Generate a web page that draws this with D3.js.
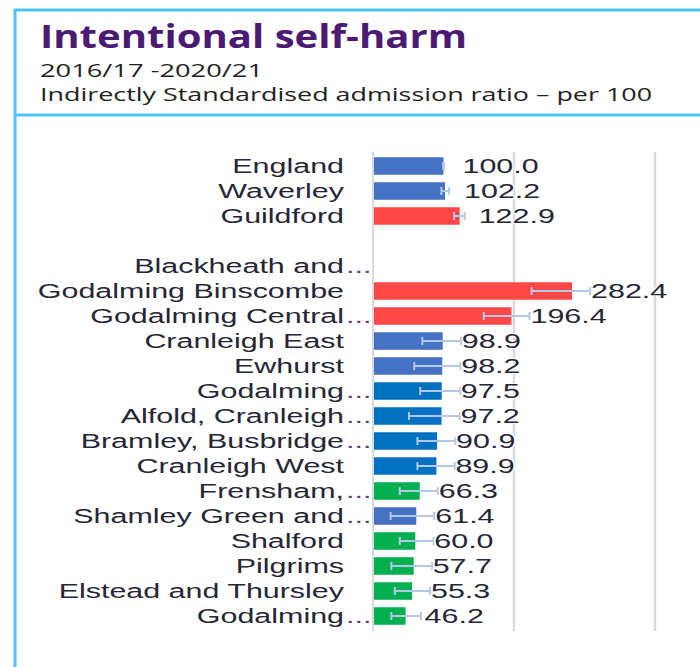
<!DOCTYPE html>
<html>
<head>
<meta charset="utf-8">
<script src="https://cdn.jsdelivr.net/npm/d3@7"></script>
<style>
    body {
        margin: 0;
        background: white;
    }
    .name, .val {
        font-family: "Liberation Sans", Arial, sans-serif;
        font-size: 21px;
        fill: #262636;
    }
    .head {
        font-family: "Open Sans", "Noto Sans", sans-serif;
    }
</style>
</head>
<body>
<script>

var width = 700,
    height = 667;

// areas, "" is the gap row between the comparators and the wards
var areas = ["England", "Waverley", "Guildford", "",
    "Blackheath and…", "Godalming Binscombe", "Godalming Central…", "Cranleigh East",
    "Ewhurst", "Godalming…", "Alfold, Cranleigh…", "Bramley, Busbridge…",
    "Cranleigh West", "Frensham,…", "Shamley Green and…", "Shalford",
    "Pilgrims", "Elstead and Thursley", "Godalming…"];
var ratio = [100.0, 102.2, 122.9, null,
    null, 282.4, 196.4, 98.9, 98.2, 97.5, 97.2, 90.9,
    89.9, 66.3, 61.4, 60.0, 57.7, 55.3, 46.2];
var lowerCI = [99.5, 97, 115, null,
    null, 225, 157, 70, 58.5, 67, 51, 63,
    63, 38, 25, 38, 26, 31, 26];
var upperCI = [100.5, 108, 130, null,
    null, 308, 222, 125, 124, 124, 123, 117,
    116, 92, 87, 86, 84, 81, 68];
// significance group of each bar
var sigGroup = ["eng", "eng", "higher", "",
    "", "higher", "higher", "eng", "eng", "similar", "similar", "similar",
    "similar", "lower", "eng", "lower", "lower", "lower", "lower"];
var gridTicks = [0, 200, 400];

var color = d3.scaleOrdinal()
    .domain(["eng", "higher", "similar", "lower"])
    .range(["#4472C4", "#FF4747", "#0070C0", "#00B050"]);

var svg = d3.select("body").append("svg")
    .attr("width", width)
    .attr("height", height);

// frame lines
var frame = "#4FC3F7";
svg.append("line").attr("x1", 14).attr("x2", width).attr("y1", 10).attr("y2", 10)
    .style("stroke", frame).style("stroke-width", 3);
svg.append("line").attr("x1", 14).attr("x2", width).attr("y1", 115).attr("y2", 115)
    .style("stroke", frame).style("stroke-width", 3);
svg.append("line").attr("x1", 15).attr("x2", 15).attr("y1", 9).attr("y2", height)
    .style("stroke", frame).style("stroke-width", 3);

// header
svg.append("text").attr("class", "head")
    .attr("x", 40).attr("y", 48)
    .attr("textLength", 427).attr("lengthAdjust", "spacingAndGlyphs")
    .style("font-size", "32px").style("font-weight", "bold").style("fill", "#4B1A72")
    .text("Intentional self-harm");
svg.append("text").attr("class", "head")
    .attr("x", 40).attr("y", 77)
    .attr("textLength", 223).attr("lengthAdjust", "spacingAndGlyphs")
    .style("font-size", "18px").style("fill", "#222")
    .text("2016/17 -2020/21");
svg.append("text").attr("class", "head")
    .attr("x", 40).attr("y", 101)
    .attr("textLength", 612).attr("lengthAdjust", "spacingAndGlyphs")
    .style("font-size", "18px").style("fill", "#222")
    .text("Indirectly Standardised admission ratio – per 100");

var x = d3.scaleLinear()
    .domain([0, 400])
    .range([373, 655]);

var y = d3.scaleBand()
    .domain(d3.range(areas.length))
    .range([153.5, 628.5])
    .paddingInner(0.3)
    .paddingOuter(0.15);

// gridlines
svg.selectAll("line.grid")
    .data(gridTicks)
    .enter().append("line")
    .attr("class", "grid")
    .attr("x1", function(d) { return x(d); })
    .attr("x2", function(d) { return x(d); })
    .attr("y1", 152)
    .attr("y2", 631)
    .style("stroke", "#d9d9d9")
    .style("stroke-width", function(d) { return d == 0 ? 2 : 2.5; });

var rows = d3.range(areas.length).filter(function(i) { return ratio[i] != null; });

svg.selectAll("rect.bar")
    .data(rows)
    .enter().append("rect")
    .attr("class", "bar")
    .attr("x", x(0) + 1)
    .attr("y", function(i) { return y(i); })
    .attr("width", function(i) { return x(ratio[i]) - x(0) - 1; })
    .attr("height", y.bandwidth())
    .style("fill", function(i) { return color(sigGroup[i]); });

// confidence intervals
var err = svg.selectAll("g.err")
    .data(rows)
    .enter().append("g")
    .attr("class", "err")
    .style("stroke", "#B4C7E7")
    .style("stroke-width", 2);
err.append("line")
    .attr("x1", function(i) { return x(lowerCI[i]); })
    .attr("x2", function(i) { return x(upperCI[i]); })
    .attr("y1", function(i) { return y(i) + y.bandwidth() / 2; })
    .attr("y2", function(i) { return y(i) + y.bandwidth() / 2; });
err.selectAll("line.cap")
    .data(function(i) { return [[lowerCI[i], i], [upperCI[i], i]]; })
    .enter().append("line")
    .attr("class", "cap")
    .attr("x1", function(d) { return x(d[0]); })
    .attr("x2", function(d) { return x(d[0]); })
    .attr("y1", function(d) { return y(d[1]) + y.bandwidth() / 2 - 4; })
    .attr("y2", function(d) { return y(d[1]) + y.bandwidth() / 2 + 4; });

// value labels
svg.selectAll("text.val")
    .data(rows)
    .enter().append("text")
    .attr("class", "val")
    .attr("transform", function(i) {
        return "translate(" + (x(ratio[i]) + 19) + "," + (y(i) + y.bandwidth() / 2 + 7) + ") scale(1.45,1)";
    })
    .style("stroke", "white")
    .style("stroke-width", 2)
    .style("paint-order", "stroke")
    .text(function(i) { return ratio[i].toFixed(1); });

// area names, truncated ones get their dots after the right edge
var names = svg.selectAll("g.name")
    .data(d3.range(areas.length).filter(function(i) { return areas[i] != ""; }))
    .enter().append("g")
    .attr("transform", function(i) { return "translate(0," + (y(i) + y.bandwidth() / 2 + 7) + ")"; });
names.append("text")
    .attr("class", "name")
    .attr("text-anchor", "end")
    .attr("transform", "translate(344,0) scale(1.45,1)")
    .text(function(i) { return areas[i].replace("…", ""); });
names.filter(function(i) { return areas[i].slice(-1) == "…"; })
    .append("text")
    .attr("class", "name")
    .attr("transform", "translate(346,0) scale(1.45,1)")
    .style("fill", "#5a3a7a")
    .text("...");

</script>
</body>
</html>
